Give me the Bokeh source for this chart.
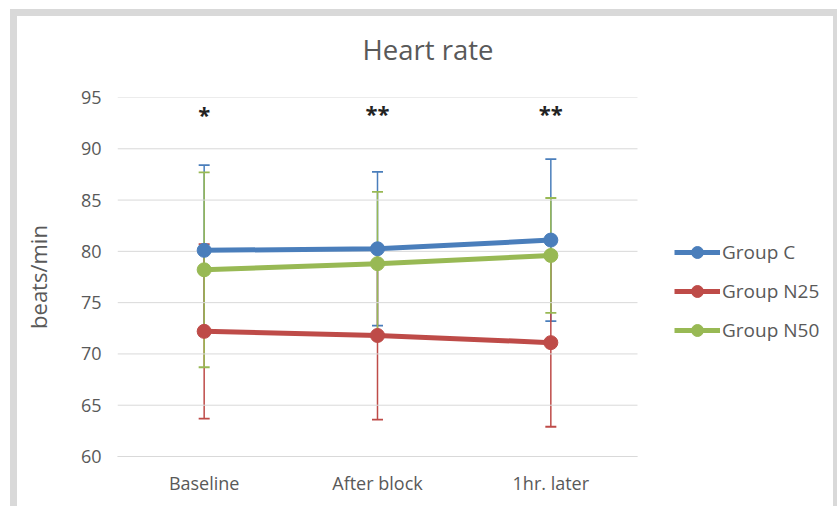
from bokeh.plotting import figure
from bokeh.models import (ColumnDataSource, Range1d, Whisker, TeeHead, Legend,
                          LegendItem, FixedTicker, Title)
from bokeh.core.properties import value
from bokeh.embed import file_html
from bokeh.resources import INLINE

# ---- data ----
categories = ["Baseline", "After block", "1hr. later"]
c_mean = [80.1, 80.25, 81.1]
c_sd = [8.3, 7.5, 7.9]
n25_mean = [72.2, 71.8, 71.1]
n25_sd = [8.5, 8.2, 8.2]
n50_mean = [78.2, 78.8, 79.6]
n50_sd = [9.5, 7.0, 5.6]
series_names = ["Group C", "Group N25", "Group N50"]
sig_labels = ["*", "**", "**"]
sig_y = [93.4, 93.5, 93.5]
y_ticks = [60, 65, 70, 75, 80, 85, 90, 95]

colors = ["#4A7EBB", "#BE4B48", "#98B954"]
FONT = "Open Sans"
TXT = "#595959"
GRAY = "#D9D9D9"

# layout (pixels)
W, H = 837, 506
BL, BR, BT, BB = 117, 8, 97, 50
CAT_PX = 520                      # width of the category area inside the frame
frame_w = W - BL - BR
n = len(categories)
cat_x = [i + 0.5 for i in range(n)]
x_end = n * frame_w / CAT_PX

p = figure(x_range=Range1d(0, x_end), y_range=Range1d(60, 95),
           width=W, height=H, output_backend="svg", toolbar_location=None,
           min_border_left=BL, min_border_right=BR, min_border_top=BT,
           min_border_bottom=BB)
p.styles = {"box-shadow": f"inset 10px 9px 0 0 #ffffff, inset 17px 16px 0 0 {GRAY}, inset -4px 0 0 0 {GRAY}"}
p.outline_line_color = None
p.background_fill_alpha = 0
p.border_fill_alpha = 0

# titles: spacer nearest the frame, then the main title
p.add_layout(Title(text=" ", text_font_size="1px", standoff=22), "above")
p.add_layout(Title(text="Heart rate", align="left", offset=245, standoff=10,
                   text_font=FONT, text_font_size="27.5px", text_font_style="normal",
                   text_color=TXT), "above")

# axes
p.yaxis.ticker = FixedTicker(ticks=y_ticks)
p.yaxis.axis_line_color = None
p.yaxis.major_tick_line_color = None
p.yaxis.minor_tick_line_color = None
p.yaxis.major_label_standoff = 10
p.yaxis.major_label_text_font = FONT
p.yaxis.major_label_text_font_size = "18px"
p.yaxis.major_label_text_color = TXT
p.yaxis.axis_label = "beats/min"
p.yaxis.axis_label_text_font = FONT
p.yaxis.axis_label_text_font_size = "22px"
p.yaxis.axis_label_text_font_style = "normal"
p.yaxis.axis_label_text_color = TXT
p.yaxis.axis_label_standoff = 25

p.xaxis.ticker = FixedTicker(ticks=cat_x)
p.xaxis.major_label_overrides = {x: c for x, c in zip(cat_x, categories)}
p.xaxis.bounds = (0, n)
p.xaxis.axis_line_color = GRAY
p.xaxis.major_tick_line_color = None
p.xaxis.minor_tick_line_color = None
p.xaxis.major_label_standoff = 8
p.xaxis.major_label_text_font = FONT
p.xaxis.major_label_text_font_size = "18px"
p.xaxis.major_label_text_color = TXT

p.xgrid.grid_line_color = None
p.ygrid.grid_line_color = None
# horizontal gridlines limited to the category area
p.segment(x0=[0] * len(y_ticks), x1=[n] * len(y_ticks), y0=y_ticks, y1=y_ticks,
          line_color=GRAY, line_width=1)

means = [c_mean, n25_mean, n50_mean]
sds = [c_sd, n25_sd, n50_sd]

# error bars
for m, s, col in zip(means, sds, colors):
    src = ColumnDataSource(dict(x=cat_x,
                                upper=[a + b for a, b in zip(m, s)],
                                lower=[a - b for a, b in zip(m, s)]))
    w = Whisker(source=src, base="x", upper="upper", lower="lower", dimension="height",
                line_color=col, line_width=1.5,
                upper_head=TeeHead(size=11, line_color=col, line_width=1.8),
                lower_head=TeeHead(size=11, line_color=col, line_width=1.8))
    p.add_layout(w)

# lines and markers
items = []
for m, col, name in zip(means, colors, series_names):
    src = ColumnDataSource(dict(x=cat_x, y=m))
    ln = p.line("x", "y", source=src, line_color=col, line_width=5)
    sc = p.scatter("x", "y", source=src, size=14, fill_color=col, line_color=col)
    items.append(LegendItem(label=name, renderers=[ln, sc]))

# significance marks
p.text(x=cat_x, y=sig_y, text=sig_labels, text_align="center",
       text_baseline="middle", text_font=value(FONT), text_font_size="22px",
       text_color="#222222", text_font_style="bold")

legend = Legend(items=items, location=(557, 111), border_line_color=None,
                background_fill_alpha=0, padding=0, margin=0, spacing=9,
                glyph_width=46, glyph_height=30, label_height=20,
                label_text_font=FONT, label_text_font_size="19px",
                label_text_color=TXT, label_standoff=2)
p.add_layout(legend, "center")

open("out.html", "w").write(file_html(p, INLINE))
